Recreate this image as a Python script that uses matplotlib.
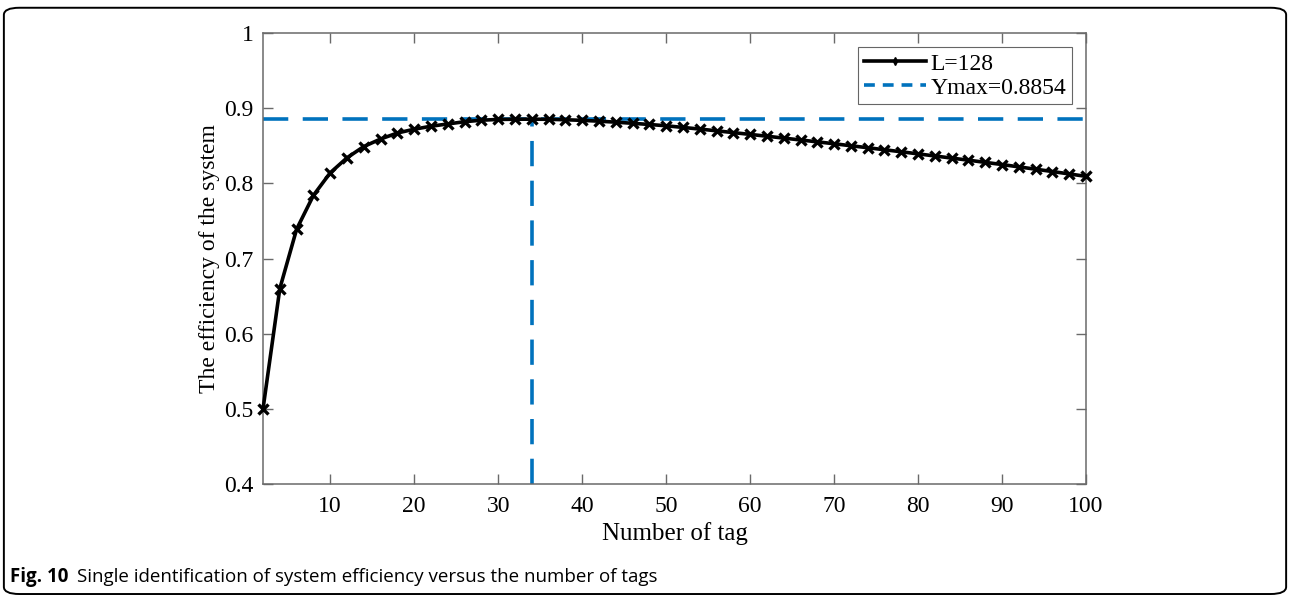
import numpy as np
import matplotlib.pyplot as plt
from matplotlib.lines import Line2D
from matplotlib.patches import FancyBboxPatch

# number of tags and the efficiency of the system for L=128
tags = list(range(2, 101, 2))
efficiency = [
    0.500, 0.660, 0.739, 0.784, 0.814, 0.834, 0.849, 0.859, 0.867, 0.872,
    0.876, 0.879, 0.882, 0.884, 0.885, 0.8853, 0.8854, 0.8852, 0.8846, 0.8838,
    0.8827, 0.8814, 0.8799, 0.8783, 0.8766, 0.8744, 0.8722, 0.8699, 0.8675, 0.8651,
    0.8627, 0.8602, 0.8577, 0.8552, 0.8527, 0.8500, 0.8474, 0.8447, 0.8420, 0.8392,
    0.8364, 0.8336, 0.8308, 0.8279, 0.8250, 0.8219, 0.8188, 0.8157, 0.8125, 0.8093,
]
y_max = 0.8854
x_at_max = 34
x_ticks = [10, 20, 30, 40, 50, 60, 70, 80, 90, 100]
y_ticks = [0.4, 0.5, 0.6, 0.7, 0.8, 0.9, 1.0]
y_tick_labels = ['0.4', '0.5', '0.6', '0.7', '0.8', '0.9', '1']

blue = '#0072BD'
axis_gray = '#6a6a6a'
plt.rcParams['font.family'] = ['Liberation Serif', 'DejaVu Serif']

fig = plt.figure(figsize=(12.9, 5.97), dpi=100)
ax = fig.add_axes([0.2039, 0.1893, 0.638, 0.7554])

ax.plot(tags, efficiency, '-', color='black', lw=2.6, marker='x',
        ms=7, mew=2.4, zorder=3, clip_on=False)
ax.plot([tags[0], tags[-1]], [y_max, y_max], '--', color=blue, lw=2.6,
        dashes=(7, 4), zorder=2)
ax.plot([x_at_max, x_at_max], [0.4, y_max], '--', color=blue, lw=2.6,
        dashes=(7, 4), zorder=2)

ax.set_xlim(2, 100)
ax.set_ylim(0.4, 1.0)
ax.set_xticks(x_ticks)
ax.set_yticks(y_ticks)
ax.set_yticklabels(y_tick_labels)
ax.tick_params(direction='in', length=7, width=1, colors=axis_gray,
               labelsize=17, top=True, right=True)
ax.tick_params(axis='x', pad=9)
ax.tick_params(axis='y', pad=7)
for label in ax.get_xticklabels() + ax.get_yticklabels():
    label.set_color('black')
for s in ax.spines.values():
    s.set_color(axis_gray)
    s.set_linewidth(1.1)

ax.set_xlabel('Number of tag', fontsize=18, labelpad=3)
ax.set_ylabel('The efficiency of the system', fontsize=17, labelpad=3)

handles = [
    Line2D([], [], color='black', lw=2.6, marker='d', ms=4),
    Line2D([], [], color=blue, lw=2.6, ls='--', dashes=(3, 2.2)),
]
leg = ax.legend(handles, ['L=128', 'Ymax=0.8854'], loc='upper right',
                fontsize=17, frameon=True, fancybox=False, handlelength=2.6,
                handletextpad=0.2, borderpad=0.25, labelspacing=0.1,
                borderaxespad=0.6)
leg.get_frame().set_edgecolor('#404040')
leg.get_frame().set_linewidth(0.8)

# caption and rounded frame around the figure
cap_font = ['Liberation Sans Narrow', 'Open Sans', 'DejaVu Sans']
fig.text(0.008, 0.025, 'Fig. 10', fontsize=13.5, fontweight='bold',
         family=cap_font)
fig.text(0.0595, 0.025, 'Single identification of system efficiency versus the number of tags',
         fontsize=13.5, family=cap_font)
frame = FancyBboxPatch((0.003, 0.005), 0.994, 0.982,
                       boxstyle='round,pad=0,rounding_size=0.012',
                       transform=fig.transFigure, fill=False,
                       edgecolor='black', lw=1.4)
fig.patches.append(frame)

fig.savefig('out.png', dpi=100)
